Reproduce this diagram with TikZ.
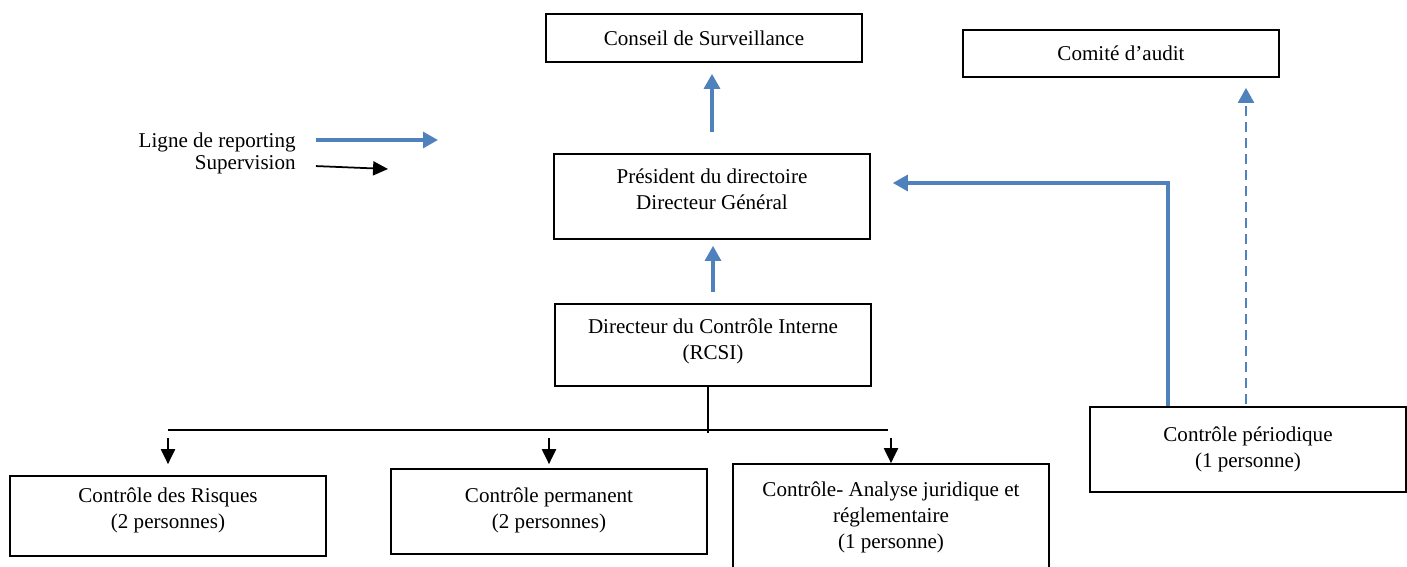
\documentclass[tikz,border=0pt]{standalone}
\usepackage{fontspec}
\setmainfont{Liberation Serif}
\usetikzlibrary{arrows.meta}
\definecolor{repblue}{RGB}{79,129,189}
\tikzstyle{unit}=[rectangle, draw, line width=1pt, minimum width=6.32cm, align=center, inner sep=2pt, font=\fontsize{12}{14.8}\selectfont]
\tikzstyle{legend}=[anchor=base east, inner sep=0pt, font=\fontsize{12}{14.8}\selectfont]
\tikzstyle{report}=[draw=repblue, line width=1.9pt, -{Triangle[length=8.5pt,width=9pt]}]
\tikzstyle{audline}=[draw=repblue, line width=1.5pt, dash pattern=on 5.7pt off 3.4pt, -{Triangle[length=8.5pt,width=9pt]}]
\tikzstyle{superv}=[draw=black, line width=1pt, -{Triangle[length=8.5pt,width=8pt]}]

\begin{document}
\begin{tikzpicture}[x=0.02cm, y=-0.02cm]
  \useasboundingbox (0,0) rectangle (1407,567);
  \node[unit, minimum height=0.96cm] (conseil) at (704,38) {Conseil de Surveillance};
  \node[unit, minimum height=0.94cm] (audit) at (1121,53.5) {Comité d’audit};
  \node[unit, minimum height=1.7cm, text depth=0.3cm] (pres) at (712,196.5) {Président du directoire\\Directeur Général};
  \node[unit, minimum height=1.64cm, text depth=0.25cm] (dci) at (713,345) {Directeur du Contrôle Interne\\(RCSI)};
  \node[unit, minimum height=1.6cm, text depth=0.32cm] (risques) at (168,516) {Contrôle des Risques\\(2 personnes)};
  \node[unit, minimum height=1.7cm, text depth=0.15cm] (perm) at (549,511.5) {Contrôle permanent\\(2 personnes)};
  \node[unit, minimum height=2.12cm] (analyse) at (891,517) {Contrôle- Analyse juridique et\\réglementaire\\(1 personne)};
  \node[unit, minimum height=1.7cm] (perio) at (1248,449.5) {Contrôle périodique\\(1 personne)};

  \node[legend] (lrep) at (296,148) {Ligne de reporting};
  \node[legend] (lsup) at (296,170) {Supervision};
  \coordinate (reptip) at (438,140);
  \coordinate (suptip) at (388,169);
  \draw[report, shorten <=0.4cm] (lrep.east |- reptip) -- (reptip);
  \draw[superv, shorten <=0.4cm] (lsup.east) -- (suptip);

  \draw[report, shorten <=0.42cm, shorten >=0.22cm] (pres.north) -- (pres.north |- conseil.south);
  \draw[report, shorten <=0.22cm, shorten >=0.12cm] (dci.north) -- (dci.north |- pres.south);

  \coordinate (turn) at (1168,183);
  \draw[report, shorten >=0.44cm] (perio.north -| turn) -- (turn) -- (pres.east |- turn);
  \coordinate (auditx) at (1246,0);
  \draw[audline, shorten <=0.04cm, shorten >=0.2cm] (perio.north -| auditx) -- (audit.south -| auditx);

  \coordinate (barl) at (168,430);
  \coordinate (barr) at (888,430);
  \coordinate (barmid) at (708,433);
  \draw[line width=1pt] (dci.south -| barmid) -- (barmid);
  \draw[line width=1pt] (barl) -- (barr);
  \foreach \b/\s in {risques/0.22cm, perm/0.08cm, analyse/0cm}
    \draw[superv, shorten <=0.16cm, shorten >=\s] (\b.north |- barl) -- (\b.north);
\end{tikzpicture}
\end{document}
